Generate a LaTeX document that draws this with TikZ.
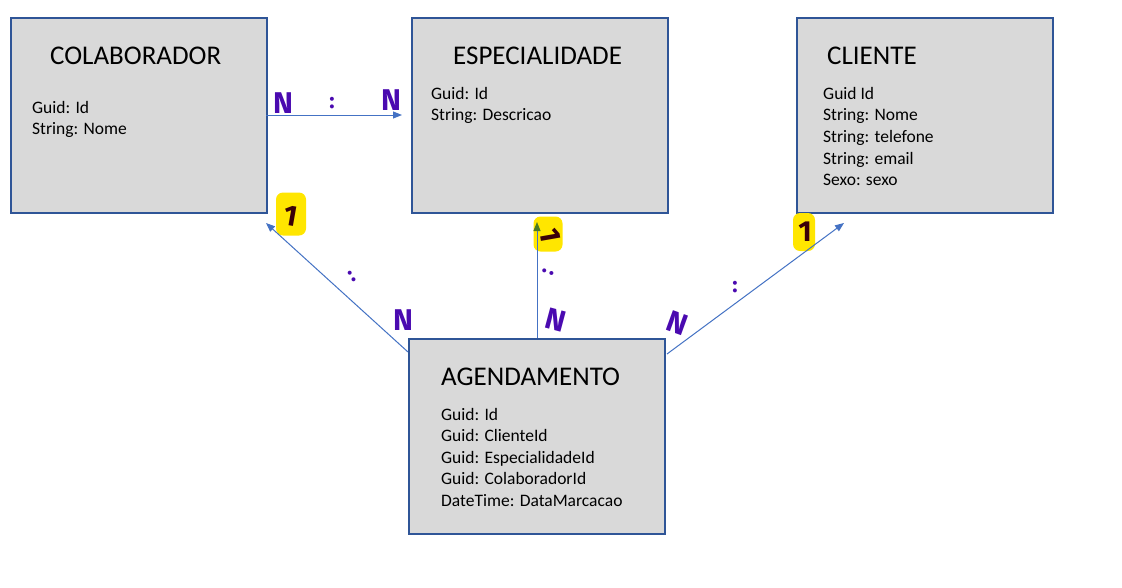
\documentclass[tikz,border=0pt]{standalone}
\usepackage{fontspec}
\setmainfont{Carlito}
\newfontfamily\handfont{Fira Sans}
\usetikzlibrary{arrows.meta}
\definecolor{boxfill}{HTML}{D9D9D9}
\definecolor{boxline}{HTML}{2F5597}
\definecolor{arrblue}{HTML}{4472C4}
\definecolor{tipgreen}{HTML}{4B7A23}
\definecolor{hand}{HTML}{4A0AB0}
\definecolor{onecol}{HTML}{3A0008}
\definecolor{hl}{HTML}{FFE600}
\begin{document}
\begin{tikzpicture}[x=1pt,y=-1pt,
  entity/.style={draw=boxline,line width=2pt,fill=boxfill,minimum width=256pt,minimum height=195pt,anchor=north west,inner sep=0pt},
  title/.style={anchor=base west,inner sep=0pt,font=\fontsize{27}{30}\selectfont},
  attr/.style={anchor=base west,inner sep=0pt,font=\fontsize{17.5}{21}\selectfont},
  rel/.style={draw=arrblue,line width=1pt,-{Triangle[length=9pt,width=7pt]}},
  hw/.style={text=hand,font=\handfont\bfseries\fontsize{30}{30}\selectfont,inner sep=0pt},
  hwdots/.style={text=hand,font=\handfont\bfseries\fontsize{22}{22}\selectfont,inner sep=0pt},
  hlbox/.style={fill=hl,rounded corners=7pt,inner sep=0pt},
  one/.style={text=onecol,font=\handfont\bfseries\fontsize{29}{29}\selectfont,inner sep=0pt}
]
\useasboundingbox (0,0) rectangle (1122,587);
\fill[white] (0,0) rectangle (1122,587);

% entities
\node[entity] (col) at (10,17) {};
\node[title] (colT) at (50,64) {COLABORADOR};
\foreach \t [count=\i] in {Guid: Id,String: Nome}
  \node[attr] (colA\i) at (32,113+21.6*\i-21.6) {\t};

\node[entity] (esp) at (411,17) {};
\node[title] (espT) at (453,64) {ESPECIALIDADE};
\foreach \t [count=\i] in {Guid: Id,String: Descricao}
  \node[attr] (espA\i) at (431,99+21.6*\i-21.6) {\t};

\node[entity] (cli) at (796,17) {};
\node[title] (cliT) at (827,64) {CLIENTE};
\foreach \t [count=\i] in {Guid Id,String: Nome,String: telefone,String: email,Sexo: sexo}
  \node[attr] (cliA\i) at (823,99+21.7*\i-21.7) {\t};

\node[entity] (ag) at (408,338) {};
\node[title] (agT) at (441,385) {AGENDAMENTO};
\foreach \t [count=\i] in {Guid: Id,Guid: ClienteId,Guid: EspecialidadeId,Guid: ColaboradorId,DateTime: DataMarcacao}
  \node[attr] (agA\i) at (441,420+21.6*\i-21.6) {\t};

% highlights (under the arrows)
\node[hlbox,minimum width=30pt,minimum height=43pt] (h1) at (291,214) {};
\node[hlbox,minimum width=29pt,minimum height=35pt] (h2) at (548,234) {};
\node[hlbox,minimum width=22pt,minimum height=38pt] (h3) at (804,232) {};

% connector end points
\coordinate (c1s) at (266,115);
\coordinate (c1e) at (402,115);
\coordinate (c2s) at (408,352);
\coordinate (c2e) at (266,223);
\coordinate (c3s) at (537,338);
\coordinate (c3e) at (537,222);
\coordinate (c4s) at (667,354);
\coordinate (c4e) at (844,223);

\draw[rel] (c1s) -- (c1e);
\draw[rel] (c2s) -- (c2e);
\draw[rel] (c4s) -- (c4e);
\draw[draw=arrblue,line width=1pt,-{Triangle[length=9pt,width=7pt,color=tipgreen]}] (c3s) -- (c3e);

% handwritten cardinalities
\node[hw] (n1) at (283,103) {N};
\node[hwdots] (d1) at (332,103) {:};
\node[hw] (n2) at (391,100) {N};

\node[one,rotate=-10] (o1) at (291,216) {1};
\node[hwdots,rotate=30] (d2) at (352,276) {:};
\node[hw] (n3) at (403,320) {N};

\node[one,rotate=-80] (o2) at (550,235) {1};
\node[hwdots,rotate=70] (d3) at (548,272) {:};
\node[hw,rotate=-15] (n4) at (556,320) {N};

\node[hw,rotate=-20] (n5) at (677,323) {N};
\node[hwdots] (d4) at (735,287) {:};
\node[one] (o3) at (805,232) {1};
\end{tikzpicture}
\end{document}
